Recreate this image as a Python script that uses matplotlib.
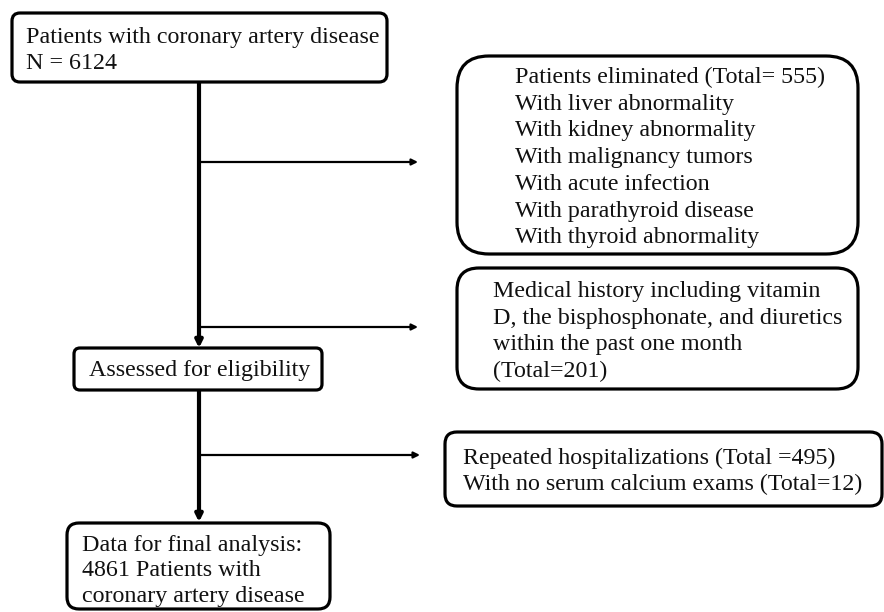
import matplotlib.pyplot as plt
from matplotlib.patches import FancyBboxPatch

# flowchart text, one list per box
top_lines = ["Patients with coronary artery disease", "N = 6124"]
excl1_lines = ["Patients eliminated (Total= 555)",
               "With liver abnormality",
               "With kidney abnormality",
               "With malignancy tumors",
               "With acute infection",
               "With parathyroid disease",
               "With thyroid abnormality"]
excl2_lines = ["Medical history including vitamin",
               "D, the bisphosphonate, and diuretics",
               "within the past one month",
               "(Total=201)"]
excl3_lines = ["Repeated hospitalizations (Total =495)",
               "With no serum calcium exams (Total=12)"]
mid_lines = ["Assessed for eligibility"]
final_lines = ["Data for final analysis:",
               "4861 Patients with",
               "coronary artery disease"]

W, H = 884, 612
FONT = 24 * 72 / 100  # 24 px em

fig = plt.figure(figsize=(W / 100, H / 100), dpi=100)
ax = fig.add_axes([0, 0, 1, 1])
ax.set_xlim(0, W)
ax.set_ylim(H, 0)
ax.axis('off')


def box(x0, y0, x1, y1, r, lw=2.3):
    p = FancyBboxPatch((x0, y0), x1 - x0, y1 - y0,
                       boxstyle=f"round,pad=0,rounding_size={r}",
                       fc='white', ec='black', lw=lw, zorder=2)
    ax.add_patch(p)


def lines(x, y0, step, texts):
    for i, t in enumerate(texts):
        ax.text(x, y0 + i * step, t, fontsize=FONT, family='Liberation Serif',
                ha='left', va='baseline', color='#111111', zorder=3)


def arrow(x0, y0, x1, y1, lw, ms):
    ax.annotate('', xy=(x1, y1), xytext=(x0, y0),
                arrowprops=dict(arrowstyle='-|>', lw=lw, color='black',
                                mutation_scale=ms, shrinkA=0, shrinkB=0),
                zorder=1)


# main spine
arrow(199, 82, 199, 348, 3.0, 10)
arrow(199, 390, 199, 522, 3.0, 10)
# side branches
arrow(199, 162, 418, 162, 1.6, 9)
arrow(199, 327, 418, 327, 1.6, 9)
arrow(199, 455, 420, 455, 1.6, 9)

box(12, 13, 387, 82, 8)
lines(26, 43, 26, top_lines)

box(457, 56, 858, 254, 32)
lines(515, 83, 26.7, excl1_lines)

box(457, 268, 858, 389, 22)
lines(493, 297, 26.7, excl2_lines)

box(445, 432, 882, 506, 12)
lines(463, 464, 26, excl3_lines)

box(74, 348, 322, 390, 6)
lines(89, 376, 26, mid_lines)

box(67, 523, 330, 609, 12)
lines(82, 551, 25.5, final_lines)

fig.savefig('out.png', dpi=100)
